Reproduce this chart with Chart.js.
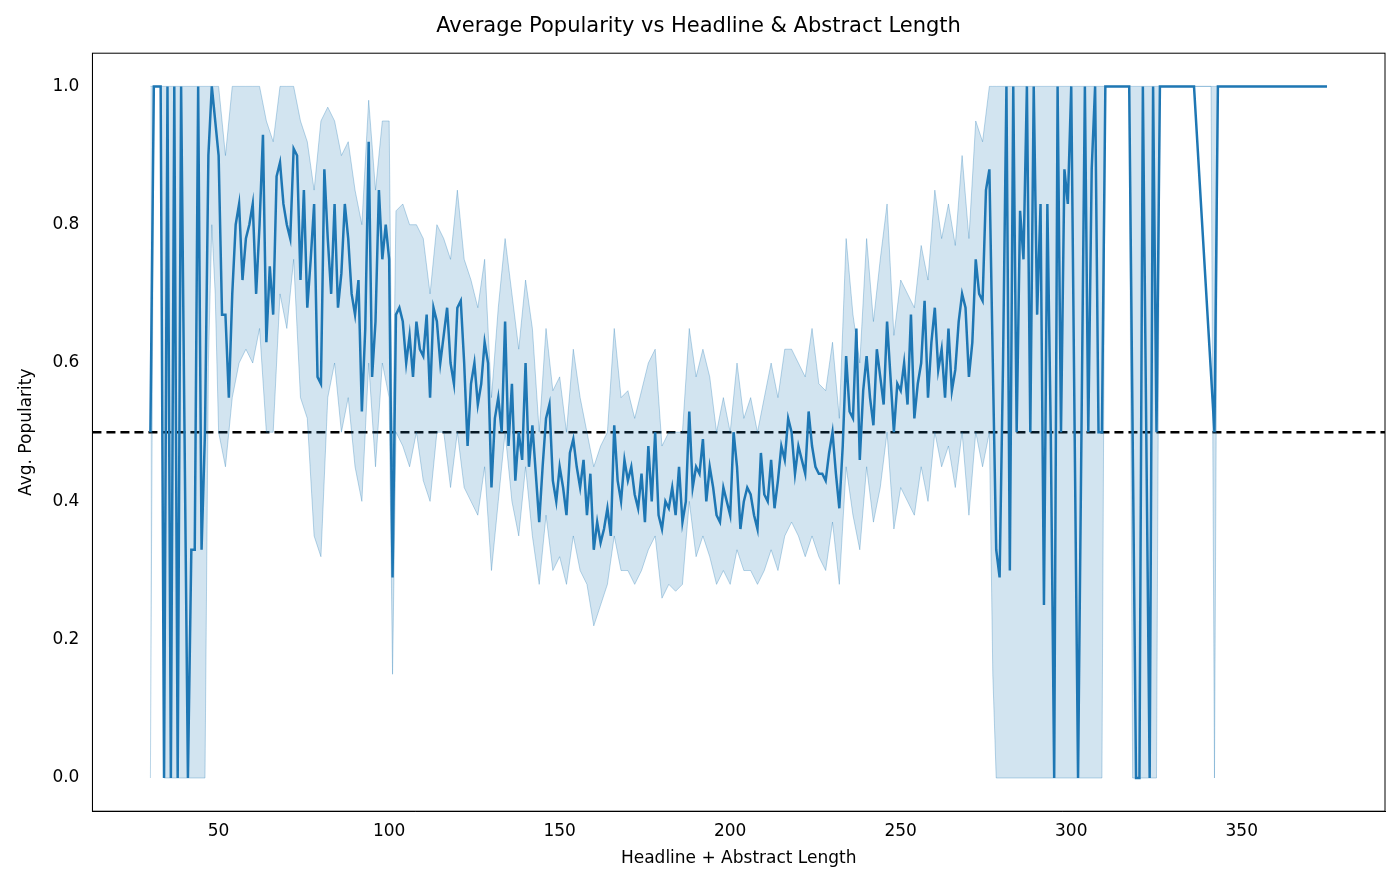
<!DOCTYPE html>
<html>
<head>
<meta charset="utf-8">
<script src="https://cdn.jsdelivr.net/npm/chart.js@4"></script>
<style>
  html, body { margin: 0; background: #fff; }
  #wrap { width: 1400px; height: 887px; }
</style>
</head>
<body>
<div id="wrap"><canvas id="chart"></canvas></div>
<script>
// mean popularity for lengths 30..336, then a few sparse points
const firstX = 30;
const meanY = [
  .5,1,1,1,0,1,0,1,0,1,
  .5,0,.33,.33,1,.33,.5,.9,1,.95,
  .9,.67,.67,.55,.7,.8,.83,.72,.78,.8,
  .83,.7,.8,.93,.63,.74,.67,.87,.89,.83,
  .8,.78,.91,.9,.72,.85,.68,.75,.83,.58,
  .57,.88,.78,.7,.83,.68,.73,.83,.78,.7,
  .67,.72,.53,.65,.92,.58,.66,.85,.75,.8,
  .75,.29,.67,.68,.66,.6,.64,.58,.66,.62,
  .61,.67,.55,.68,.66,.6,.64,.68,.6,.57,
  .68,.69,.6,.48,.57,.6,.54,.57,.63,.6,
  .42,.52,.55,.5,.66,.48,.57,.43,.5,.46,
  .6,.45,.51,.44,.37,.45,.52,.54,.43,.4,
  .45,.42,.38,.47,.49,.45,.42,.46,.38,.44,
  .33,.37,.34,.36,.39,.35,.51,.43,.4,.46,
  .43,.45,.41,.39,.44,.37,.48,.4,.5,.38,
  .36,.4,.39,.42,.38,.45,.37,.4,.53,.42,
  .45,.44,.49,.4,.45,.42,.38,.37,.42,.4,
  .38,.5,.45,.36,.4,.42,.41,.38,.36,.47,
  .41,.4,.46,.39,.43,.48,.46,.52,.5,.44,
  .48,.46,.44,.53,.48,.45,.44,.44,.43,.47,
  .5,.44,.39,.48,.61,.53,.52,.65,.46,.56,
  .61,.55,.51,.62,.58,.54,.66,.58,.5,.57,
  .56,.6,.54,.67,.52,.57,.6,.69,.55,.63,
  .68,.59,.62,.55,.65,.56,.59,.66,.7,.68,
  .58,.63,.75,.7,.69,.85,.88,.6,.33,.29,
  .6,1,.3,1,.5,.82,.75,1,.5,1,
  .67,.83,.25,.83,.5,0,1,.5,.88,.83,
  1,.5,0,.5,1,.5,.88,1,.5,.5,
  1,1,1,1,1,1,1,1,.5,0,
  0,1,.5,0,1,.5,1,1,1,1,
  1,1,1,1,1,1,1
];
const tailX = [342, 343, 375];
const tailY = [.5, 1, 1];

// confidence band
const bandX = [30,31,33,34,46,47,48,49,
  50,52,54,56,58,60,62,64,66,68,70,72,74,76,78,80,82,84,86,88,90,92,94,96,98,100,101,
  102,104,106,108,110,112,114,116,118,120,122,124,126,128,130,132,134,136,138,140,142,144,146,148,
  150,152,154,156,158,160,162,164,166,168,170,172,174,176,178,180,182,184,186,188,190,192,194,196,198,
  200,202,204,206,208,210,212,214,216,218,220,222,224,226,228,230,232,234,236,238,240,242,244,246,248,
  250,252,254,256,258,260,262,264,266,268,270,272,274,276,
  277,278,309,310,317,318,325,326,336,341,342,343,375];
const bandLo = [0,1,1,0,0,.6,.8,.7,
  .5,.45,.55,.6,.62,.6,.65,.5,.5,.7,.65,.75,.55,.52,.35,.32,.55,.6,.5,.55,.45,.4,.6,.45,.6,.55,.15,
  .5,.48,.45,.5,.43,.4,.5,.5,.42,.5,.42,.4,.38,.45,.3,.4,.5,.4,.35,.45,.35,.28,.38,.3,
  .32,.28,.35,.3,.28,.22,.25,.28,.35,.3,.3,.28,.3,.33,.35,.26,.28,.27,.28,.4,.32,.35,.32,.28,.3,
  .28,.33,.3,.3,.28,.3,.33,.3,.35,.37,.35,.32,.35,.32,.3,.37,.28,.45,.38,.33,.45,.37,.42,.5,.36,
  .42,.4,.38,.45,.4,.5,.45,.48,.42,.5,.38,.5,.45,.5,
  .15,0,0,1,1,0,0,1,1,1,0,1,1];
const bandHi = [1,1,1,1,1,1,1,1,
  1,.9,1,1,1,1,1,.95,.92,1,1,1,.95,.92,.85,.95,.97,.95,.9,.92,.85,.8,.98,.85,.95,.95,.45,
  .82,.83,.8,.8,.78,.7,.8,.78,.75,.85,.75,.72,.68,.75,.55,.68,.78,.7,.62,.72,.65,.5,.65,.56,
  .58,.5,.62,.55,.5,.45,.48,.5,.65,.55,.56,.52,.56,.6,.62,.48,.5,.5,.5,.65,.58,.62,.58,.5,.55,
  .5,.6,.52,.55,.5,.55,.6,.55,.62,.62,.6,.58,.65,.57,.56,.63,.52,.78,.67,.6,.78,.66,.75,.83,.64,
  .72,.7,.68,.77,.72,.85,.78,.83,.77,.9,.78,.95,.92,1,
  1,1,1,1,1,1,1,1,1,1,1,1,1];

const xTicks = [50, 100, 150, 200, 250, 300, 350];
const yTicks = [0, 0.2, 0.4, 0.6, 0.8, 1.0];
const refLine = 0.5;

const meanPts = meanY.map((v, i) => ({ x: firstX + i, y: v }))
  .concat(tailX.map((x, i) => ({ x: x, y: tailY[i] })));
const loPts = bandX.map((x, i) => ({ x: x, y: bandLo[i] }));
const hiPts = bandX.map((x, i) => ({ x: x, y: bandHi[i] }));

const blue = "#1f77b4";
const font = { family: "DejaVu Sans", size: 17 };
Chart.defaults.color = "#000";

new Chart(document.getElementById("chart"), {
  type: "line",
  data: {
    datasets: [
      { data: loPts, borderColor: "rgba(31,119,180,0.3)", borderWidth: 1, pointRadius: 0, fill: false },
      { data: hiPts, borderColor: "rgba(31,119,180,0.3)", borderWidth: 1, pointRadius: 0,
        fill: "-1", backgroundColor: "rgba(31,119,180,0.2)" },
      { data: meanPts, borderColor: blue, borderWidth: 2.5, pointRadius: 0, fill: false },
      { data: [{ x: 13, y: refLine }, { x: 392, y: refLine }], borderColor: "#000",
        borderWidth: 2.5, borderDash: [9, 5], pointRadius: 0, fill: false }
    ]
  },
  options: {
    responsive: true,
    maintainAspectRatio: false,
    animation: false,
    layout: { padding: { left: 12, right: 15, top: 10, bottom: 14 } },
    plugins: {
      legend: { display: false },
      tooltip: { enabled: false },
      title: { display: true, text: "Average Popularity vs Headline & Abstract Length",
        font: { family: "DejaVu Sans", size: 21, weight: "normal" }, padding: { top: 4, bottom: 14 } }
    },
    scales: {
      x: {
        type: "linear", min: 13, max: 392,
        afterBuildTicks: ax => { ax.ticks = xTicks.map(v => ({ value: v })); },
        grid: { display: false, drawTicks: true, tickLength: 7 },
        border: { display: true, color: "#000", width: 1 },
        ticks: { font: font, maxRotation: 0 },
        title: { display: true, text: "Headline + Abstract Length", font: font, padding: { top: 4 } }
      },
      y: {
        min: -0.048, max: 1.048,
        afterBuildTicks: ax => { ax.ticks = yTicks.map(v => ({ value: v })); },
        grid: { display: false, drawTicks: true, tickLength: 7 },
        border: { display: true, color: "#000", width: 1 },
        ticks: { font: font, padding: 6, callback: v => v.toFixed(1) },
        title: { display: true, text: "Avg. Popularity", font: font, padding: { bottom: 10 } }
      }
    }
  },
  plugins: [{
    id: "frame",
    afterDraw(c) {
      const a = c.chartArea, g = c.ctx;
      g.save(); g.strokeStyle = "#000"; g.lineWidth = 1;
      g.strokeRect(a.left, a.top, a.right - a.left, a.bottom - a.top);
      g.restore();
    }
  }]
});
</script>
</body>
</html>
